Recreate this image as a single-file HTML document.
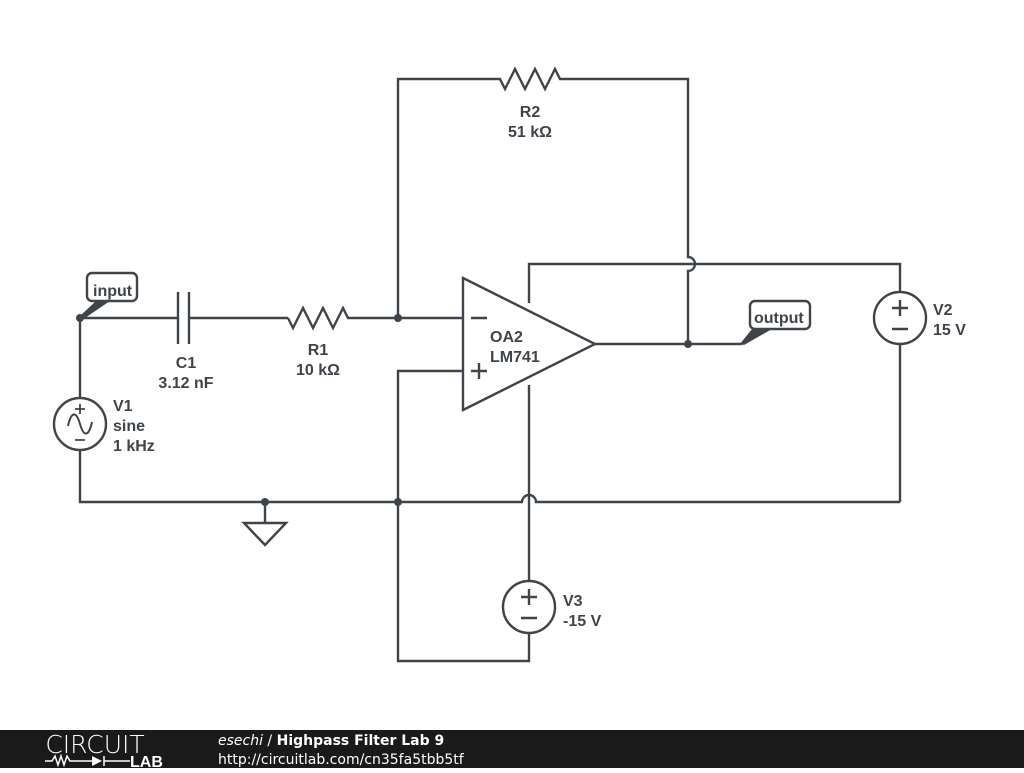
<!DOCTYPE html>
<html><head><style>
body{margin:0;width:1024px;height:768px;overflow:hidden;background:#fff;font-family:"Liberation Sans",sans-serif}
</style></head><body>
<svg width="1024" height="768" viewBox="0 0 1024 768" xmlns="http://www.w3.org/2000/svg">
<g stroke="#3e4449" stroke-width="2.4" fill="none" stroke-linejoin="miter">
<path d="M80,318 H178 M189,318 H288"/>
<path d="M178,292 V344 M189,292 V344"/>
<path d="M288,318 L293,328 L303,308 L313,328 L323,308 L333,328 L343,308 L348,318 H463"/>
<path d="M398,318 V79 H500 L505,89 L515,69 L525,89 L535,69 L545,89 L555,69 L560,79 H688 V257 A7,7 0 0 1 688,271 V344"/>
<path d="M595,344 H742"/>
<path d="M463,278 V410 L595,344 Z"/>
<path d="M471,318 H487 M471,371 H487 M479,363 V379"/>
<path d="M529,303 V264 H900 V292 M900,344 V502"/>
<path d="M463,371 H398 V661 H529 V633 M529,581 V385"/>
<path d="M80,450 V502 H522 A7,7 0 0 1 536,502 H900"/>
<path d="M80,318 V398"/>
<circle cx="80" cy="424" r="26"/>
<path d="M68,426 C71,412 76,410 80,424 C84,438 89,436 92,422" stroke-width="2"/>
<path d="M80,404 V414 M75,409 H85 M75,440 H85" stroke-width="1.8"/>
<path d="M265,502 V523 M244,523 H286 L265,545 Z"/>
<circle cx="900" cy="318" r="26"/>
<path d="M892,308 H908 M900,300 V316 M892,329 H908"/>
<circle cx="529" cy="607" r="26"/>
<path d="M521,597 H537 M529,589 V605 M521,618 H537"/>
<rect x="87" y="273" width="50" height="28" rx="5" fill="#fff"/>
<rect x="750" y="301" width="60" height="28" rx="5" fill="#fff"/>
</g>
<g fill="#3e4449">
<circle cx="80" cy="318" r="4"/>
<circle cx="398" cy="318" r="4"/>
<circle cx="688" cy="344" r="4"/>
<circle cx="265" cy="502" r="4"/>
<circle cx="398" cy="502" r="4"/>
<path d="M80,316 L96,301 L110,301 L82,320 Z"/>
<path d="M740,344 L752,329 L772,329 L744,345 Z"/>
</g>
<g font-family="Liberation Sans, sans-serif" font-weight="bold" font-size="16" fill="#3e4449">
<text x="93" y="296">input</text>
<text x="754" y="323">output</text>
<text x="186" y="368" text-anchor="middle">C1</text>
<text x="186" y="388" text-anchor="middle">3.12 nF</text>
<text x="318" y="355" text-anchor="middle">R1</text>
<text x="318" y="375" text-anchor="middle">10 kΩ</text>
<text x="530" y="117" text-anchor="middle">R2</text>
<text x="530" y="137" text-anchor="middle">51 kΩ</text>
<text x="490" y="342">OA2</text>
<text x="490" y="362">LM741</text>
<text x="113" y="411">V1</text>
<text x="113" y="431">sine</text>
<text x="113" y="451">1 kHz</text>
<text x="933" y="315">V2</text>
<text x="933" y="335">15 V</text>
<text x="563" y="606">V3</text>
<text x="563" y="626">-15 V</text>
</g>
<rect x="0" y="730" width="1024" height="38" fill="#1a1a1a"/>
<text x="95" y="753" font-size="25" fill="#fff" text-anchor="middle" font-family="DejaVu Sans, sans-serif" font-weight="200" letter-spacing="0">CIRCUIT</text>
<path d="M45,761 H52 L55,756 L58,765 L61,756 L64,765 L67,756 L70,761 H92 M104,756 V766 M104,761 H130" stroke="#fff" stroke-width="1.5" fill="none"/>
<path d="M92,756 V766 L102,761 Z" fill="#fff"/>
<text x="130" y="767" font-size="16" font-weight="bold" fill="#fff" font-family="Liberation Sans, sans-serif">LAB</text>
<text x="218" y="745" font-size="14" fill="#fff" font-family="DejaVu Sans, sans-serif"><tspan font-style="italic">esechi</tspan> / <tspan font-weight="bold">Highpass Filter Lab 9</tspan></text>
<text x="218" y="764" font-size="14" fill="#fff" font-family="DejaVu Sans, sans-serif">http://circuitlab.com/cn35fa5tbb5tf</text>
</svg>
</body></html>
